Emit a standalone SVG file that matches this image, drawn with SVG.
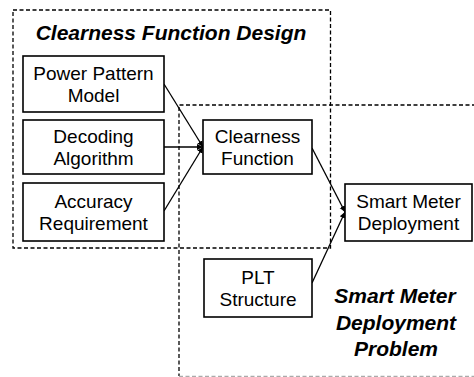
<svg xmlns="http://www.w3.org/2000/svg" width="474" height="377" viewBox="0 0 474 377">
  <style>
    .grp { fill: none; stroke: #000; stroke-width: 1.3; stroke-dasharray: 4 2.5; }
    .node rect { fill: #fff; stroke: #000; stroke-width: 1.6; }
    .node text { font-family: "Liberation Sans", Arial, sans-serif; font-size: 19px; text-anchor: middle; fill: #000; }
    .title { font-family: "Liberation Sans", Arial, sans-serif; font-size: 21px; font-weight: bold; font-style: italic; text-anchor: middle; fill: #000; }
    .edge { stroke: #000; stroke-width: 1.3; fill: none; marker-end: url(#arr); }
  </style>
  <defs>
    <marker id="arr" markerUnits="userSpaceOnUse" markerWidth="7" markerHeight="7" refX="6" refY="3.5" orient="auto">
      <path d="M0,0.5 L6,3.5 L0,6.5 Z" fill="#000"/>
    </marker>
  </defs>
  <rect width="474" height="377" fill="#fff"/>

  <g id="group-clearness-function-design">
    <rect class="grp" x="13" y="10" width="317.5" height="238"/>
    <text class="title" x="171" y="40">Clearness Function Design</text>
  </g>
  <g id="group-smart-meter-deployment-problem">
    <path class="grp" d="M489,105 H179 V376"/>
    <line class="grp" x1="179" y1="376.3" x2="474" y2="376.3" stroke="#aaa" style="stroke:#aaa"/>
    <text class="title" x="395" y="303">Smart Meter</text>
    <text class="title" x="396" y="330">Deployment</text>
    <text class="title" x="396" y="356">Problem</text>
  </g>

  <g id="connectors">
    <line class="edge" x1="164" y1="84" x2="203" y2="147"/>
    <line class="edge" x1="164" y1="147" x2="203" y2="147"/>
    <line class="edge" x1="164" y1="211" x2="203" y2="147"/>
    <line class="edge" x1="312" y1="148" x2="345" y2="212"/>
    <line class="edge" x1="312" y1="283" x2="345" y2="212"/>
  </g>

  <g id="node-power-pattern-model" class="node">
    <rect x="23" y="56" width="141" height="56"/>
    <text x="93.5" y="80">Power Pattern</text>
    <text x="93.5" y="102">Model</text>
  </g>
  <g id="node-decoding-algorithm" class="node">
    <rect x="23" y="120" width="141" height="54"/>
    <text x="93.5" y="143">Decoding</text>
    <text x="93.5" y="165">Algorithm</text>
  </g>
  <g id="node-accuracy-requirement" class="node">
    <rect x="23" y="183" width="141" height="58"/>
    <text x="93.5" y="208">Accuracy</text>
    <text x="93.5" y="230">Requirement</text>
  </g>
  <g id="node-clearness-function" class="node">
    <rect x="203" y="120" width="109" height="54"/>
    <text x="257.5" y="143">Clearness</text>
    <text x="257.5" y="165">Function</text>
  </g>
  <g id="node-smart-meter-deployment" class="node">
    <rect x="345" y="184" width="127" height="57"/>
    <text x="408.5" y="208">Smart Meter</text>
    <text x="408.5" y="230">Deployment</text>
  </g>
  <g id="node-plt-structure" class="node">
    <rect x="204" y="259" width="108" height="58"/>
    <text x="258" y="284">PLT</text>
    <text x="258" y="306">Structure</text>
  </g>
</svg>
